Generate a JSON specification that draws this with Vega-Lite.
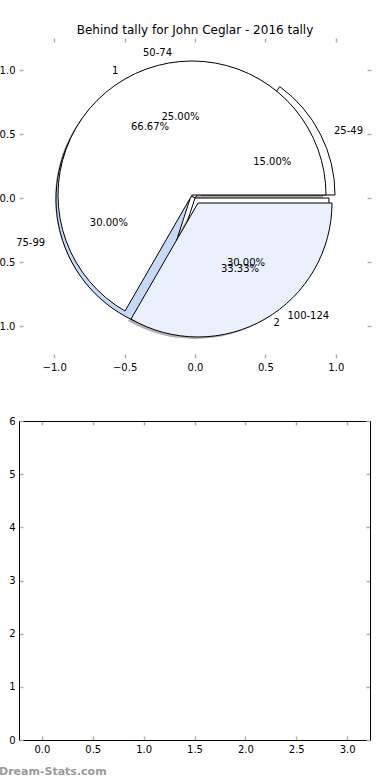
{
  "$schema": "https://vega.github.io/schema/vega-lite/v6.json",
  "autosize": {"type": "pad"},
  "padding": {"left": -10, "top": 24, "right": 0, "bottom": 0},
  "background": "white",
  "config": {
    "font": "DejaVu Sans",
    "view": {"stroke": null},
    "axis": {"grid": false, "labelFont": "DejaVu Sans", "labelFontSize": 10, "labelColor": "black", "tickColor": "#b0b0b0", "tickWidth": 1.5, "tickSize": -4, "labelPadding": 8, "domain": false, "title": null},
    "title": {"font": "DejaVu Sans", "fontSize": 12, "fontWeight": "normal", "color": "black"},
    "text": {"font": "DejaVu Sans", "fontSize": 10, "color": "black", "baseline": "middle"}
  },
  "datasets": {
    "tally": [
      {"k": 1, "range": "25-49", "share": 0.15},
      {"k": 2, "range": "50-74", "share": 0.25},
      {"k": 3, "range": "75-99", "share": 0.30},
      {"k": 4, "range": "100-124", "share": 0.30}
    ],
    "group": [
      {"k": 1, "label": "1", "share": 0.6667},
      {"k": 2, "label": "2", "share": 0.3333}
    ],
    "empty": []
  },
  "spacing": 44,
  "vconcat": [
    {
      "width": 352,
      "height": 320,
      "title": {"text": "Behind tally for John Ceglar - 2016 tally", "offset": 0, "frame": "group", "anchor": "middle"},
      "resolve": {"axis": {"x": "independent", "y": "independent"}},
      "layer": [
        {
          "data": {"name": "group"},
          "transform": [{"stack": "share", "groupby": [], "sort": [{"field": "k"}], "as": ["t0", "t1"]}, {"filter": "datum.k == 1"}],
          "mark": {"type": "arc", "outerRadius": 134, "fill": "#555555", "opacity": 0.45, "xOffset": -6, "yOffset": 0},
          "encoding": {
            "x": {"datum": 0, "type": "quantitative", "scale": {"domain": [-1.25, 1.25], "nice": false, "zero": false}, "axis": {"orient": "bottom", "values": [-1, -0.5, 0, 0.5, 1], "format": ".1f"}},
            "y": {"datum": 0, "type": "quantitative", "scale": {"domain": [-1.25, 1.25], "nice": false, "zero": false}, "axis": {"orient": "left", "values": [-1, -0.5, 0, 0.5, 1], "format": ".1f"}},
            "theta": {"field": "t0", "type": "quantitative", "scale": {"domain": [0, 1], "range": [1.5707963, -4.712389]}},
            "theta2": {"field": "t1"}
          }
        },
        {
          "data": {"name": "group"},
          "transform": [{"stack": "share", "groupby": [], "sort": [{"field": "k"}], "as": ["t0", "t1"]}, {"filter": "datum.k == 2"}],
          "mark": {"type": "arc", "outerRadius": 134, "fill": "#555555", "opacity": 0.45, "xOffset": 0, "yOffset": 7},
          "encoding": {
            "x": {"datum": 0, "type": "quantitative", "axis": {"orient": "top", "values": [-1, -0.5, 0, 0.5, 1], "labels": false}},
            "y": {"datum": 0, "type": "quantitative", "axis": {"orient": "right", "values": [-1, -0.5, 0, 0.5, 1], "labels": false}},
            "theta": {"field": "t0", "type": "quantitative"},
            "theta2": {"field": "t1"}
          }
        },
        {
          "data": {"name": "tally"},
          "transform": [{"stack": "share", "groupby": [], "sort": [{"field": "k"}], "as": ["t0", "t1"]}, {"filter": "datum.k == 2 || datum.k == 4"}],
          "mark": {"type": "arc", "outerRadius": 134, "fill": "white", "stroke": "black", "strokeWidth": 1},
          "encoding": {
            "x": {"datum": 0, "type": "quantitative", "axis": null},
            "y": {"datum": 0, "type": "quantitative", "axis": null},
            "theta": {"field": "t0", "type": "quantitative"},
            "theta2": {"field": "t1"}
          }
        },
        {
          "data": {"name": "tally"},
          "transform": [{"stack": "share", "groupby": [], "sort": [{"field": "k"}], "as": ["t0", "t1"]}, {"filter": "datum.k == 3"}],
          "mark": {"type": "arc", "outerRadius": 134, "fill": "#c6d9f9", "stroke": "black", "strokeWidth": 1, "xOffset": -5, "yOffset": 1},
          "encoding": {
            "x": {"datum": 0, "type": "quantitative", "axis": null},
            "y": {"datum": 0, "type": "quantitative", "axis": null},
            "theta": {"field": "t0", "type": "quantitative"},
            "theta2": {"field": "t1"}
          }
        },
        {
          "data": {"name": "tally"},
          "transform": [{"stack": "share", "groupby": [], "sort": [{"field": "k"}], "as": ["t0", "t1"]}, {"filter": "datum.k == 1"}],
          "mark": {"type": "arc", "outerRadius": 134, "fill": "white", "stroke": "black", "strokeWidth": 1, "xOffset": 6, "yOffset": -3},
          "encoding": {
            "x": {"datum": 0, "type": "quantitative", "axis": null},
            "y": {"datum": 0, "type": "quantitative", "axis": null},
            "theta": {"field": "t0", "type": "quantitative"},
            "theta2": {"field": "t1"}
          }
        },
        {
          "data": {"name": "group"},
          "transform": [{"stack": "share", "groupby": [], "sort": [{"field": "k"}], "as": ["t0", "t1"]}, {"filter": "datum.k == 1"}],
          "mark": {"type": "arc", "outerRadius": 134, "fill": "white", "stroke": "black", "strokeWidth": 1, "xOffset": -3, "yOffset": -3},
          "encoding": {
            "x": {"datum": 0, "type": "quantitative", "axis": null},
            "y": {"datum": 0, "type": "quantitative", "axis": null},
            "theta": {"field": "t0", "type": "quantitative"},
            "theta2": {"field": "t1"}
          }
        },
        {
          "data": {"name": "group"},
          "transform": [{"stack": "share", "groupby": [], "sort": [{"field": "k"}], "as": ["t0", "t1"]}, {"filter": "datum.k == 2"}],
          "mark": {"type": "arc", "outerRadius": 134, "fill": "#eaf0fc", "stroke": "black", "strokeWidth": 1, "xOffset": 3, "yOffset": 5},
          "encoding": {
            "x": {"datum": 0, "type": "quantitative", "axis": null},
            "y": {"datum": 0, "type": "quantitative", "axis": null},
            "theta": {"field": "t0", "type": "quantitative"},
            "theta2": {"field": "t1"}
          }
        },
        {
          "data": {"name": "tally"},
          "mark": {"type": "text", "radius": 147, "align": "left", "dx": 8},
          "encoding": {
            "x": {"datum": 0, "type": "quantitative", "axis": null},
            "y": {"datum": 0, "type": "quantitative", "axis": null},
            "theta": {"field": "share", "type": "quantitative", "stack": true},
            "order": {"field": "k"},
            "text": {"field": "range"},
            "opacity": {"condition": {"test": "datum.range == '25-49'", "value": 1}, "value": 0}
          }
        },
        {
          "data": {"name": "tally"},
          "mark": {"type": "text", "radius": 147, "align": "right", "dx": 0},
          "encoding": {
            "x": {"datum": 0, "type": "quantitative", "axis": null},
            "y": {"datum": 0, "type": "quantitative", "axis": null},
            "theta": {"field": "share", "type": "quantitative", "stack": true},
            "order": {"field": "k"},
            "text": {"field": "range"},
            "opacity": {"condition": {"test": "datum.range == '50-74'", "value": 1}, "value": 0}
          }
        },
        {
          "data": {"name": "tally"},
          "mark": {"type": "text", "radius": 147, "align": "right", "dx": -10},
          "encoding": {
            "x": {"datum": 0, "type": "quantitative", "axis": null},
            "y": {"datum": 0, "type": "quantitative", "axis": null},
            "theta": {"field": "share", "type": "quantitative", "stack": true},
            "order": {"field": "k"},
            "text": {"field": "range"},
            "opacity": {"condition": {"test": "datum.range == '75-99'", "value": 1}, "value": 0}
          }
        },
        {
          "data": {"name": "tally"},
          "mark": {"type": "text", "radius": 147, "align": "left", "dx": 6, "dy": -1},
          "encoding": {
            "x": {"datum": 0, "type": "quantitative", "axis": null},
            "y": {"datum": 0, "type": "quantitative", "axis": null},
            "theta": {"field": "share", "type": "quantitative", "stack": true},
            "order": {"field": "k"},
            "text": {"field": "range"},
            "opacity": {"condition": {"test": "datum.range == '100-124'", "value": 1}, "value": 0}
          }
        },
        {
          "data": {"name": "tally"},
          "mark": {"type": "text", "radius": 80, "align": "center", "dx": 6},
          "encoding": {
            "x": {"datum": 0, "type": "quantitative", "axis": null},
            "y": {"datum": 0, "type": "quantitative", "axis": null},
            "theta": {"field": "share", "type": "quantitative", "stack": true},
            "order": {"field": "k"},
            "text": {"field": "share", "type": "quantitative", "format": ".2%"},
            "opacity": {"condition": {"test": "datum.k == 1", "value": 1}, "value": 0}
          }
        },
        {
          "data": {"name": "tally"},
          "mark": {"type": "text", "radius": 80, "align": "center", "dx": -2, "dy": -2},
          "encoding": {
            "x": {"datum": 0, "type": "quantitative", "axis": null},
            "y": {"datum": 0, "type": "quantitative", "axis": null},
            "theta": {"field": "share", "type": "quantitative", "stack": true},
            "order": {"field": "k"},
            "text": {"field": "share", "type": "quantitative", "format": ".2%"},
            "opacity": {"condition": {"test": "datum.k == 2", "value": 1}, "value": 0}
          }
        },
        {
          "data": {"name": "tally"},
          "mark": {"type": "text", "radius": 80, "align": "center", "dx": -10},
          "encoding": {
            "x": {"datum": 0, "type": "quantitative", "axis": null},
            "y": {"datum": 0, "type": "quantitative", "axis": null},
            "theta": {"field": "share", "type": "quantitative", "stack": true},
            "order": {"field": "k"},
            "text": {"field": "share", "type": "quantitative", "format": ".2%"},
            "opacity": {"condition": {"test": "datum.k == 3", "value": 1}, "value": 0}
          }
        },
        {
          "data": {"name": "tally"},
          "mark": {"type": "text", "radius": 80, "align": "center", "dx": 4},
          "encoding": {
            "x": {"datum": 0, "type": "quantitative", "axis": null},
            "y": {"datum": 0, "type": "quantitative", "axis": null},
            "theta": {"field": "share", "type": "quantitative", "stack": true},
            "order": {"field": "k"},
            "text": {"field": "share", "type": "quantitative", "format": ".2%"},
            "opacity": {"condition": {"test": "datum.k == 4", "value": 1}, "value": 0}
          }
        },
        {
          "data": {"name": "group"},
          "mark": {"type": "text", "radius": 147, "align": "right", "dx": -3},
          "encoding": {
            "x": {"datum": 0, "type": "quantitative", "axis": null},
            "y": {"datum": 0, "type": "quantitative", "axis": null},
            "theta": {"field": "share", "type": "quantitative", "stack": true},
            "order": {"field": "k"},
            "text": {"field": "label"},
            "opacity": {"condition": {"test": "datum.k == 1", "value": 1}, "value": 0}
          }
        },
        {
          "data": {"name": "group"},
          "mark": {"type": "text", "radius": 147, "align": "left", "dx": 5, "dy": -2},
          "encoding": {
            "x": {"datum": 0, "type": "quantitative", "axis": null},
            "y": {"datum": 0, "type": "quantitative", "axis": null},
            "theta": {"field": "share", "type": "quantitative", "stack": true},
            "order": {"field": "k"},
            "text": {"field": "label"},
            "opacity": {"condition": {"test": "datum.k == 2", "value": 1}, "value": 0}
          }
        },
        {
          "data": {"name": "group"},
          "mark": {"type": "text", "radius": 80, "align": "center", "dx": -5, "dy": -2},
          "encoding": {
            "x": {"datum": 0, "type": "quantitative", "axis": null},
            "y": {"datum": 0, "type": "quantitative", "axis": null},
            "theta": {"field": "share", "type": "quantitative", "stack": true},
            "order": {"field": "k"},
            "text": {"field": "share", "type": "quantitative", "format": ".2%"},
            "opacity": {"condition": {"test": "datum.k == 1", "value": 1}, "value": 0}
          }
        },
        {
          "data": {"name": "group"},
          "mark": {"type": "text", "radius": 80, "align": "center", "dx": 5, "dy": 2},
          "encoding": {
            "x": {"datum": 0, "type": "quantitative", "axis": null},
            "y": {"datum": 0, "type": "quantitative", "axis": null},
            "theta": {"field": "share", "type": "quantitative", "stack": true},
            "order": {"field": "k"},
            "text": {"field": "share", "type": "quantitative", "format": ".2%"},
            "opacity": {"condition": {"test": "datum.k == 2", "value": 1}, "value": 0}
          }
        }
      ]
    },
    {
      "width": 351,
      "height": 319,
      "title": {"text": "Dream-Stats.com", "orient": "bottom", "anchor": "start", "frame": "group", "dx": -20, "offset": 12, "fontSize": 11, "fontWeight": "bold", "color": "#9a9a9a"},
      "data": {"name": "empty"},
      "resolve": {"axis": {"x": "independent", "y": "independent"}},
      "layer": [
        {
          "mark": {"type": "point"},
          "encoding": {
            "x": {"field": "x", "type": "quantitative", "scale": {"domain": [-0.225, 3.225], "nice": false, "zero": false}, "axis": {"orient": "bottom", "values": [0, 0.5, 1, 1.5, 2, 2.5, 3], "format": ".1f", "domain": true, "domainColor": "black", "domainWidth": 1}},
            "y": {"field": "y", "type": "quantitative", "scale": {"domain": [0, 6], "nice": false, "zero": false}, "axis": {"orient": "left", "values": [0, 1, 2, 3, 4, 5, 6], "format": "d", "domain": true, "domainColor": "black", "domainWidth": 1}}
          }
        },
        {
          "mark": {"type": "point"},
          "encoding": {
            "x": {"field": "x", "type": "quantitative", "axis": {"orient": "top", "values": [0, 0.5, 1, 1.5, 2, 2.5, 3], "labels": false, "domain": true, "domainColor": "black", "domainWidth": 1}},
            "y": {"field": "y", "type": "quantitative", "axis": {"orient": "right", "values": [0, 1, 2, 3, 4, 5, 6], "labels": false, "domain": true, "domainColor": "black", "domainWidth": 1}}
          }
        }
      ]
    }
  ]
}
